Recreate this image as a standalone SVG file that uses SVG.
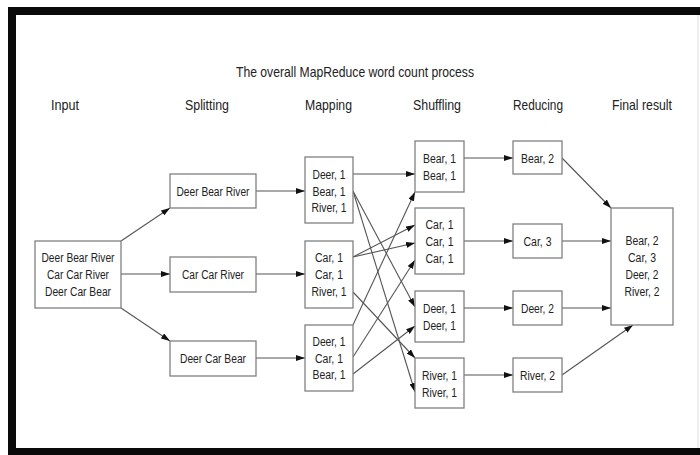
<svg xmlns="http://www.w3.org/2000/svg" width="700" height="455" viewBox="0 0 700 455">
<defs>
<marker id="ah" viewBox="0 0 9 6" refX="9" refY="3" markerWidth="9" markerHeight="6" markerUnits="userSpaceOnUse" orient="auto">
<path d="M0,0 L9,3 L0,6 z" fill="#111"/>
</marker>
<style>
.bx{fill:#fff;stroke:#808080;stroke-width:1.3}
.t{font-family:"Liberation Sans",Arial,Helvetica,sans-serif;font-size:12px;fill:#222;text-anchor:middle}
.h{font-family:"Liberation Sans",Arial,Helvetica,sans-serif;font-size:14.5px;fill:#222;text-anchor:middle}
.c line{stroke:#555;stroke-width:1.1;marker-end:url(#ah)}
</style>
</defs>
<rect width="700" height="455" fill="#fff"/>
<g id="frame">
<rect x="8" y="7" width="692" height="8" fill="#0a0a0a"/>
<rect x="8" y="7" width="8" height="448" fill="#0a0a0a"/>
<rect x="8" y="448" width="692" height="7" fill="#0a0a0a"/>
<line x1="698" y1="15" x2="698" y2="448" stroke="#ddd" stroke-width="1"/>
</g>
<g id="titles">
<text class="h" x="355" y="77" textLength="238" lengthAdjust="spacingAndGlyphs">The overall MapReduce word count process</text>
<text class="h" x="65" y="110" textLength="28" lengthAdjust="spacingAndGlyphs">Input</text>
<text class="h" x="207" y="110" textLength="44" lengthAdjust="spacingAndGlyphs">Splitting</text>
<text class="h" x="328.5" y="110" textLength="47" lengthAdjust="spacingAndGlyphs">Mapping</text>
<text class="h" x="437" y="110" textLength="48" lengthAdjust="spacingAndGlyphs">Shuffling</text>
<text class="h" x="538" y="110" textLength="50" lengthAdjust="spacingAndGlyphs">Reducing</text>
<text class="h" x="642" y="110" textLength="60" lengthAdjust="spacingAndGlyphs">Final result</text>
</g>
<g id="connectors" class="c">
<line x1="121" y1="241" x2="170" y2="208"/>
<line x1="121" y1="274" x2="170" y2="274"/>
<line x1="121" y1="308" x2="170" y2="341"/>
<line x1="256" y1="191" x2="305" y2="191"/>
<line x1="256" y1="274" x2="305" y2="274"/>
<line x1="256" y1="358" x2="305" y2="358"/>
<line x1="353" y1="174" x2="415" y2="174"/>
<line x1="353" y1="191" x2="415" y2="307"/>
<line x1="353" y1="191" x2="415" y2="392"/>
<line x1="353" y1="257" x2="415" y2="225"/>
<line x1="353" y1="257" x2="415" y2="243"/>
<line x1="353" y1="292" x2="415" y2="358"/>
<line x1="353" y1="325" x2="415" y2="192"/>
<line x1="353" y1="357" x2="415" y2="260"/>
<line x1="353" y1="374" x2="415" y2="326"/>
<line x1="464" y1="158" x2="513" y2="158"/>
<line x1="464" y1="241" x2="513" y2="241"/>
<line x1="464" y1="308" x2="513" y2="308"/>
<line x1="464" y1="375" x2="513" y2="375"/>
<line x1="562" y1="158" x2="611" y2="208"/>
<line x1="562" y1="241" x2="611" y2="241"/>
<line x1="562" y1="308" x2="611" y2="308"/>
<line x1="562" y1="375" x2="633" y2="325"/>
</g>
<g id="input">
<rect class="bx" x="35" y="241" width="86" height="67"/>
<text class="t" x="78" y="261.5" textLength="73" lengthAdjust="spacingAndGlyphs">Deer Bear River</text>
<text class="t" x="78" y="278.5" textLength="62" lengthAdjust="spacingAndGlyphs">Car Car River</text>
<text class="t" x="78" y="295.5" textLength="66" lengthAdjust="spacingAndGlyphs">Deer Car Bear</text>
</g>
<g id="split1">
<rect class="bx" x="170" y="174" width="86" height="34"/>
<text class="t" x="213" y="195.5" textLength="73" lengthAdjust="spacingAndGlyphs">Deer Bear River</text>
</g>
<g id="split2">
<rect class="bx" x="170" y="257" width="86" height="35"/>
<text class="t" x="213" y="278.5" textLength="62" lengthAdjust="spacingAndGlyphs">Car Car River</text>
</g>
<g id="split3">
<rect class="bx" x="170" y="341" width="86" height="35"/>
<text class="t" x="213" y="362.5" textLength="66" lengthAdjust="spacingAndGlyphs">Deer Car Bear</text>
</g>
<g id="map1">
<rect class="bx" x="305" y="157" width="48" height="66"/>
<text class="t" x="329" y="178.5" textLength="33" lengthAdjust="spacingAndGlyphs">Deer, 1</text>
<text class="t" x="329" y="195.5" textLength="33" lengthAdjust="spacingAndGlyphs">Bear, 1</text>
<text class="t" x="329" y="212" textLength="35" lengthAdjust="spacingAndGlyphs">River, 1</text>
</g>
<g id="map2">
<rect class="bx" x="305" y="241" width="48" height="67"/>
<text class="t" x="329" y="261.5" textLength="28" lengthAdjust="spacingAndGlyphs">Car, 1</text>
<text class="t" x="329" y="278.5" textLength="28" lengthAdjust="spacingAndGlyphs">Car, 1</text>
<text class="t" x="329" y="295.5" textLength="35" lengthAdjust="spacingAndGlyphs">River, 1</text>
</g>
<g id="map3">
<rect class="bx" x="305" y="325" width="48" height="66"/>
<text class="t" x="329" y="345.5" textLength="33" lengthAdjust="spacingAndGlyphs">Deer, 1</text>
<text class="t" x="329" y="362.5" textLength="28" lengthAdjust="spacingAndGlyphs">Car, 1</text>
<text class="t" x="329" y="378.5" textLength="33" lengthAdjust="spacingAndGlyphs">Bear, 1</text>
</g>
<g id="shuf1">
<rect class="bx" x="415" y="141" width="49" height="51"/>
<text class="t" x="439.5" y="162.5" textLength="33" lengthAdjust="spacingAndGlyphs">Bear, 1</text>
<text class="t" x="439.5" y="179.5" textLength="33" lengthAdjust="spacingAndGlyphs">Bear, 1</text>
</g>
<g id="shuf2">
<rect class="bx" x="415" y="208" width="49" height="66"/>
<text class="t" x="439.5" y="228.5" textLength="28" lengthAdjust="spacingAndGlyphs">Car, 1</text>
<text class="t" x="439.5" y="245.5" textLength="28" lengthAdjust="spacingAndGlyphs">Car, 1</text>
<text class="t" x="439.5" y="262.5" textLength="28" lengthAdjust="spacingAndGlyphs">Car, 1</text>
</g>
<g id="shuf3">
<rect class="bx" x="415" y="291" width="49" height="51"/>
<text class="t" x="439.5" y="312.5" textLength="33" lengthAdjust="spacingAndGlyphs">Deer, 1</text>
<text class="t" x="439.5" y="329.5" textLength="33" lengthAdjust="spacingAndGlyphs">Deer, 1</text>
</g>
<g id="shuf4">
<rect class="bx" x="415" y="358" width="49" height="50"/>
<text class="t" x="439.5" y="379.5" textLength="35" lengthAdjust="spacingAndGlyphs">River, 1</text>
<text class="t" x="439.5" y="396.5" textLength="35" lengthAdjust="spacingAndGlyphs">River, 1</text>
</g>
<g id="red1">
<rect class="bx" x="513" y="141" width="49" height="33"/>
<text class="t" x="537.5" y="162.5" textLength="33" lengthAdjust="spacingAndGlyphs">Bear, 2</text>
</g>
<g id="red2">
<rect class="bx" x="513" y="224" width="49" height="34"/>
<text class="t" x="537.5" y="245.5" textLength="28" lengthAdjust="spacingAndGlyphs">Car, 3</text>
</g>
<g id="red3">
<rect class="bx" x="513" y="291" width="49" height="34"/>
<text class="t" x="537.5" y="312.5" textLength="33" lengthAdjust="spacingAndGlyphs">Deer, 2</text>
</g>
<g id="red4">
<rect class="bx" x="513" y="358" width="49" height="34"/>
<text class="t" x="537.5" y="379.5" textLength="35" lengthAdjust="spacingAndGlyphs">River, 2</text>
</g>
<g id="final">
<rect class="bx" x="611" y="208" width="62" height="117"/>
<text class="t" x="642" y="244.5" textLength="33" lengthAdjust="spacingAndGlyphs">Bear, 2</text>
<text class="t" x="642" y="261.5" textLength="28" lengthAdjust="spacingAndGlyphs">Car, 3</text>
<text class="t" x="642" y="278.5" textLength="33" lengthAdjust="spacingAndGlyphs">Deer, 2</text>
<text class="t" x="642" y="295.5" textLength="35" lengthAdjust="spacingAndGlyphs">River, 2</text>
</g>
</svg>
